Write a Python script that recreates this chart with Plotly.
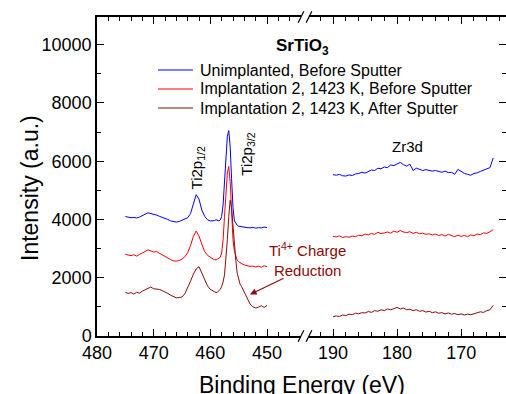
import plotly.graph_objects as go

# Ti 2p window (binding energy, eV) -- finer step across the Ti2p3/2 line
ev_ti = [475.0, 474.5, 474.0, 473.5, 473.0, 472.5, 472.0, 471.5, 471.0, 470.5,
         470.0, 469.5, 469.0, 468.5, 468.0, 467.5, 467.0, 466.5, 466.0, 465.5,
         465.0, 464.5, 464.0, 463.5, 463.0, 462.5, 462.0, 461.5, 461.0, 460.5,
         460.0, 459.5,
         459.25, 459.0, 458.75, 458.5, 458.25, 458.0, 457.75, 457.5, 457.25, 457.0,
         456.75, 456.5, 456.25, 456.0, 455.75, 455.5, 455.25, 455.0, 454.75, 454.5,
         454.25, 454.0,
         453.5, 453.0, 452.5, 452.0, 451.5, 451.0, 450.5, 450.0]

unimpl_ti = [4100, 4080, 4060, 4070, 4050, 4080, 4120, 4180, 4230, 4210,
             4170, 4150, 4110, 4080, 4040, 4000, 3950, 3920, 3910, 3930,
             3970, 4010, 4060, 4200, 4500, 4850, 4700, 4320, 4110, 3990,
             3950, 3940,
             3960, 3990, 3960, 3950, 3980, 4100, 4500, 5300, 6200, 6850,
             7050, 6500, 5400, 4400, 3950, 3850, 3800, 3770, 3760, 3740,
             3750, 3730,
             3720, 3710, 3730, 3700, 3720, 3710, 3740, 3720]

before_ti = [2800, 2770, 2760, 2790, 2740, 2800, 2840, 2900, 2960, 2920,
             2880, 2900, 2840, 2790, 2720, 2660, 2620, 2580, 2570, 2590,
             2640, 2720, 2860, 3100, 3420, 3600, 3430, 3150, 2900, 2770,
             2690, 2640,
             2620, 2610, 2640, 2670, 2700, 2850, 3300, 4100, 5000, 5600,
             5820, 5300, 4300, 3300, 2900, 2700, 2600, 2550, 2510, 2480,
             2460, 2440,
             2420, 2390, 2400, 2370, 2400, 2360, 2410, 2380]

after_ti = [1500, 1460, 1490, 1440, 1500, 1470, 1540, 1580, 1640, 1680,
            1620, 1610, 1600, 1560, 1520, 1460, 1400, 1340, 1310, 1320,
            1340, 1450, 1640, 1880, 2120, 2300, 2380, 2150, 1900, 1720,
            1600, 1530,
            1500, 1490, 1510, 1540, 1600, 1700, 1850, 2100, 2600, 3300,
            4100, 4660, 4400, 3700, 3100, 2600, 2150, 1900, 1780, 1700,
            1600, 1500,
            1350, 1100, 1000, 960, 990, 1040, 980, 1050]

# Zr 3d window (binding energy, eV)
ev_zr = [190.0, 189.5, 189.0, 188.5, 188.0, 187.5, 187.0, 186.5, 186.0, 185.5,
         185.0, 184.5, 184.0, 183.5, 183.0, 182.5, 182.0, 181.5, 181.0, 180.5,
         180.0, 179.5, 179.0, 178.5, 178.0, 177.5, 177.0, 176.5, 176.0, 175.5,
         175.0, 174.5, 174.0, 173.5, 173.0, 172.5, 172.0, 171.5, 171.0, 170.5,
         170.0, 169.5, 169.0, 168.5, 168.0, 167.5, 167.0, 166.5, 166.0, 165.5,
         165.0]

unimpl_zr = [5540, 5520, 5550, 5500, 5490, 5530, 5510, 5560, 5580, 5620,
             5590, 5650, 5700, 5680, 5760, 5740, 5800, 5780, 5870, 5850,
             5900, 5960, 5880, 5830, 5900, 5680, 5760, 5720, 5680, 5710,
             5690, 5660, 5680, 5640, 5620, 5660, 5610, 5620, 5550, 5720,
             5640, 5580, 5550, 5520, 5580, 5600, 5650, 5700, 5740, 5780,
             6110]

before_zr = [3420, 3400, 3440, 3380, 3410, 3390, 3430, 3410, 3460, 3440,
             3500, 3470, 3520, 3490, 3560, 3510, 3540, 3570, 3530, 3600,
             3560, 3620, 3570, 3550, 3580, 3520, 3560, 3510, 3530, 3490,
             3510, 3470, 3500, 3450, 3480, 3430, 3490, 3440, 3410, 3460,
             3420, 3450, 3410, 3470, 3440, 3500, 3480, 3540, 3520, 3580,
             3650]

after_zr = [660, 690, 670, 720, 700, 750, 730, 780, 760, 800,
            790, 840, 810, 870, 850, 900, 870, 930, 900, 950,
            980, 930, 960, 900, 920, 870, 900, 850, 870, 820,
            850, 800, 830, 780, 800, 760, 790, 750, 770, 730,
            760, 720, 750, 730, 770, 790, 830, 810, 870, 900,
            1050]

series_names = ["Unimplanted, Before Sputter",
                "Implantation 2, 1423 K, Before Sputter",
                "Implantation 2, 1423 K, After Sputter"]
series_colors = ["#0000FF", "#FF0000", "#8B0A0A"]

FONT = "Arial, Liberation Sans, sans-serif"

W, H = 506, 394
ML, MR, MT, MB = 97, 0, 17, 58


def px_x(px):
    """Pixel column -> paper x."""
    return (px - ML) / (W - ML - MR)


def px_y(py):
    """Pixel row -> paper y."""
    return (H - MB - py) / (H - MT - MB)


fig = go.Figure()

for name, color, ti, zr in zip(series_names, series_colors,
                               [unimpl_ti, before_ti, after_ti],
                               [unimpl_zr, before_zr, after_zr]):
    fig.add_trace(go.Scatter(x=ev_ti, y=ti, mode="lines", name=name,
                             line=dict(color=color, width=1),
                             xaxis="x", yaxis="y", showlegend=False))
    fig.add_trace(go.Scatter(x=ev_zr, y=zr, mode="lines", name=name,
                             line=dict(color=color, width=1),
                             xaxis="x2", yaxis="y2", showlegend=False))

axis_common = dict(showline=True, linecolor="black", linewidth=1.5,
                   ticks="inside", ticklen=7, tickwidth=1, tickcolor="black",
                   showgrid=False, zeroline=False,
                   tickfont=dict(family=FONT, size=18, color="black"))

split = px_x(301)
gap = px_x(309) - split

fig.update_layout(
    width=W, height=H,
    margin=dict(l=ML, r=MR, t=MT, b=MB),
    paper_bgcolor="white", plot_bgcolor="white",
    showlegend=False,
    xaxis=dict(domain=[0, split], range=[480, 444.0], dtick=10, tick0=480,
               mirror="ticks", anchor="y",
               minor=dict(dtick=2, ticks="inside", ticklen=4, tickcolor="black"),
               **axis_common),
    xaxis2=dict(domain=[split + gap, 1], range=[193.75, 163.0], dtick=10, tick0=190,
                mirror="ticks", anchor="y2",
                minor=dict(dtick=2, ticks="inside", ticklen=4, tickcolor="black"),
                **axis_common),
    yaxis=dict(range=[0, 10950], dtick=2000, tick0=0, anchor="x", tickformat="d",
               minor=dict(dtick=1000, ticks="inside", ticklen=4, tickcolor="black"),
               **axis_common),
    yaxis2=dict(range=[0, 10950], dtick=2000, tick0=0, anchor="x2",
                overlaying="y", side="right", matches="y", showticklabels=False,
                minor=dict(dtick=1000, ticks="inside", ticklen=4, tickcolor="black"),
                **axis_common),
)

# axis-break marks on the bottom and top frame lines
for yb in (0.0, 1.0):
    for xb in (split, split + gap):
        fig.add_shape(type="line", xref="paper", yref="paper",
                      x0=xb - 0.007, y0=yb - 0.018, x1=xb + 0.007, y1=yb + 0.018,
                      line=dict(color="black", width=1.2))

ann = []

# legend: sample line plus label for each series
legend_rows = [70, 89, 108]
for name, color, row in zip(series_names, series_colors, legend_rows):
    fig.add_shape(type="line", xref="paper", yref="paper",
                  x0=px_x(158), x1=px_x(193), y0=px_y(row), y1=px_y(row),
                  line=dict(color=color, width=1.2))
    ann.append(dict(text=name, xref="paper", yref="paper",
                    x=px_x(198), y=px_y(row), xanchor="left", yanchor="middle",
                    showarrow=False, font=dict(family=FONT, size=16, color="black")))

ann.append(dict(text="Binding Energy (eV)", xref="paper", yref="paper",
                x=0.5, y=px_y(385), xanchor="center", yanchor="middle",
                showarrow=False, font=dict(family=FONT, size=23, color="black")))
ann.append(dict(text="Intensity (a.u.)", xref="paper", yref="paper",
                x=px_x(30), y=px_y(188), xanchor="center", yanchor="middle",
                textangle=-90, showarrow=False,
                font=dict(family=FONT, size=23, color="black")))
ann.append(dict(text="<b>SrTiO<sub>3</sub></b>", xref="paper", yref="paper",
                x=px_x(302), y=px_y(47), xanchor="center", yanchor="middle",
                showarrow=False, font=dict(family=FONT, size=17, color="black")))
ann.append(dict(text="Ti2p<sub>1/2</sub>", xref="x", yref="y",
                x=462.2, y=5780, textangle=-90, showarrow=False,
                font=dict(family=FONT, size=15, color="black")))
ann.append(dict(text="Ti2p<sub>3/2</sub>", xref="x", yref="y",
                x=453.5, y=6230, textangle=-90, showarrow=False,
                font=dict(family=FONT, size=15, color="black")))
ann.append(dict(text="Zr3d", xref="x2", yref="y2",
                x=178.3, y=6500, showarrow=False,
                font=dict(family=FONT, size=15, color="black")))
ann.append(dict(text="Ti<sup>4+</sup> Charge<br>Reduction", xref="paper", yref="paper",
                x=px_x(307), y=px_y(259), xanchor="center", yanchor="middle",
                showarrow=False, align="center",
                font=dict(family=FONT, size=15, color="#8B0A0A")))
ann.append(dict(text="", xref="x", yref="y", x=453.0, y=1424,
                axref="x", ayref="y", ax=446.8, ay=2007,
                showarrow=True, arrowhead=2, arrowsize=1.1, arrowwidth=1.2,
                arrowcolor="#8B0A0A"))
fig.update_layout(annotations=ann)

fig.write_html("out.html")
